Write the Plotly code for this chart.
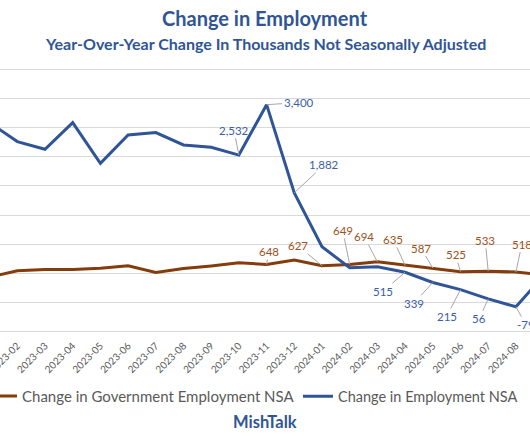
import plotly.graph_objects as go

months = ["2023-01", "2023-02", "2023-03", "2023-04", "2023-05", "2023-06", "2023-07",
          "2023-08", "2023-09", "2023-10", "2023-11", "2023-12", "2024-01", "2024-02",
          "2024-03", "2024-04", "2024-05", "2024-06", "2024-07", "2024-08", "2024-09"]
total_emp = [3090, 2764, 2632, 3091, 2391, 2879, 2919, 2707, 2667, 2532, 3400, 1882,
             953, 592, 609, 515, 339, 215, 56, -79, 450]
gov_emp = [430, 540, 564, 560, 582, 626, 512, 580, 624, 678, 648, 724,
           627, 649, 694, 635, 587, 525, 533, 518, 470]

# which points carry data labels, and label offsets (px) from the point
total_labels = {"2023-10": (-5, -25), "2023-11": (32, -2), "2023-12": (30, -28),
                "2024-04": (-22, 19), "2024-05": (-19, 21), "2024-06": (-14, 27),
                "2024-07": (-9, 20), "2024-08": (10, 18)}
gov_labels = {"2023-11": (2, -13), "2024-01": (-24, -20), "2024-02": (-7, -34),
              "2024-03": (-13, -25), "2024-04": (-12, -26), "2024-05": (-12, -20),
              "2024-06": (-5, -17), "2024-07": (-3, -31), "2024-08": (6, -28)}

BLUE = "#2F5597"
BROWN = "#843C0C"
BLUE_TXT = "#3A5DAA"
BROWN_TXT = "#9C5221"
GRID = "#D9D9D9"
FONT = "Lato"

idx = list(range(len(months)))

fig = go.Figure()
fig.add_trace(go.Scatter(x=idx, y=gov_emp, mode="lines", name="Change in Government Employment NSA",
                         line=dict(color=BROWN, width=3), legend="legend"))
fig.add_trace(go.Scatter(x=idx, y=total_emp, mode="lines", name="Change in Employment NSA",
                         line=dict(color=BLUE, width=3), legend="legend2"))

def fmt(v):
    return f"{v:,}" if v >= 0 else f"-{abs(v):,}"

anns = []
for m, (ax, ay) in total_labels.items():
    i = months.index(m)
    anns.append(dict(x=i, y=total_emp[i], xref="x", yref="y", text=fmt(total_emp[i]),
                     showarrow=True, arrowhead=0, arrowwidth=1, arrowcolor="#A6A6A6",
                     ax=ax, ay=ay, font=dict(family=FONT, size=11.5, color=BLUE_TXT)))
for m, (ax, ay) in gov_labels.items():
    i = months.index(m)
    anns.append(dict(x=i, y=gov_emp[i], xref="x", yref="y", text=fmt(gov_emp[i]),
                     showarrow=True, arrowhead=0, arrowwidth=1, arrowcolor="#A6A6A6",
                     ax=ax, ay=ay, font=dict(family=FONT, size=11.5, color=BROWN_TXT)))

anns.append(dict(text="<b>Change in Employment</b>", xref="paper", yref="paper", x=0.5, y=1.1695,
                 xanchor="center", yanchor="middle",
                 showarrow=False, font=dict(family=FONT, size=20, color=BLUE)))
anns.append(dict(text="<b>Year-Over-Year Change In Thousands Not Seasonally Adjusted</b>",
                 xref="paper", yref="paper", x=0.5, y=1.074, xanchor="center", yanchor="middle",
                 showarrow=False, font=dict(family=FONT, size=16, color=BLUE)))
anns.append(dict(text="<b>MishTalk</b>", xref="paper", yref="paper", x=0.5, y=-0.3125,
                 xanchor="center", yanchor="middle",
                 showarrow=False, font=dict(family=FONT, size=16.5, color=BLUE)))

x0 = 1 - 17.3 / 27.7
x1 = 1 + (530 - 17.3) / 27.7
y_lo, y_hi = -600, 4100
zero_pos = (0 - y_lo) / (y_hi - y_lo)

fig.update_layout(
    width=530, height=442,
    margin=dict(l=0, r=0, t=64, b=105, autoexpand=False),
    paper_bgcolor="white", plot_bgcolor="white",
    showlegend=True,
    legend=dict(orientation="h", x=-18 / 530, xanchor="left", y=-0.217, yanchor="middle",
                font=dict(family=FONT, size=15, color="#595959"), bgcolor="rgba(0,0,0,0)"),
    legend2=dict(orientation="h", x=298 / 530, xanchor="left", y=-0.217, yanchor="middle",
                 font=dict(family=FONT, size=14.5, color="#595959"), bgcolor="rgba(0,0,0,0)"),
    annotations=anns,
    xaxis=dict(range=[x0, x1], tickmode="array", tickvals=idx, ticktext=months,
               tickangle=-45, showgrid=False, zeroline=False, showline=False, ticks="",
               ticklabeloverflow="allow",
               tickfont=dict(family=FONT, size=10, color="#595959")),
    xaxis2=dict(range=[x0, x1], overlaying="x", anchor="free", position=zero_pos,
                side="bottom", tickmode="array", tickvals=idx, showticklabels=False,
                ticks="outside", ticklen=4, tickcolor=GRID, showline=True, linecolor=GRID,
                showgrid=False, zeroline=False),
    yaxis=dict(range=[y_lo, y_hi], tick0=0, dtick=500, showgrid=True, gridcolor=GRID,
               gridwidth=1, zeroline=False, showticklabels=False, ticks=""),
)

fig.write_html("out.html", config={"displayModeBar": False},
               post_script="document.body.style.margin='0';document.body.style.overflow='hidden';")
